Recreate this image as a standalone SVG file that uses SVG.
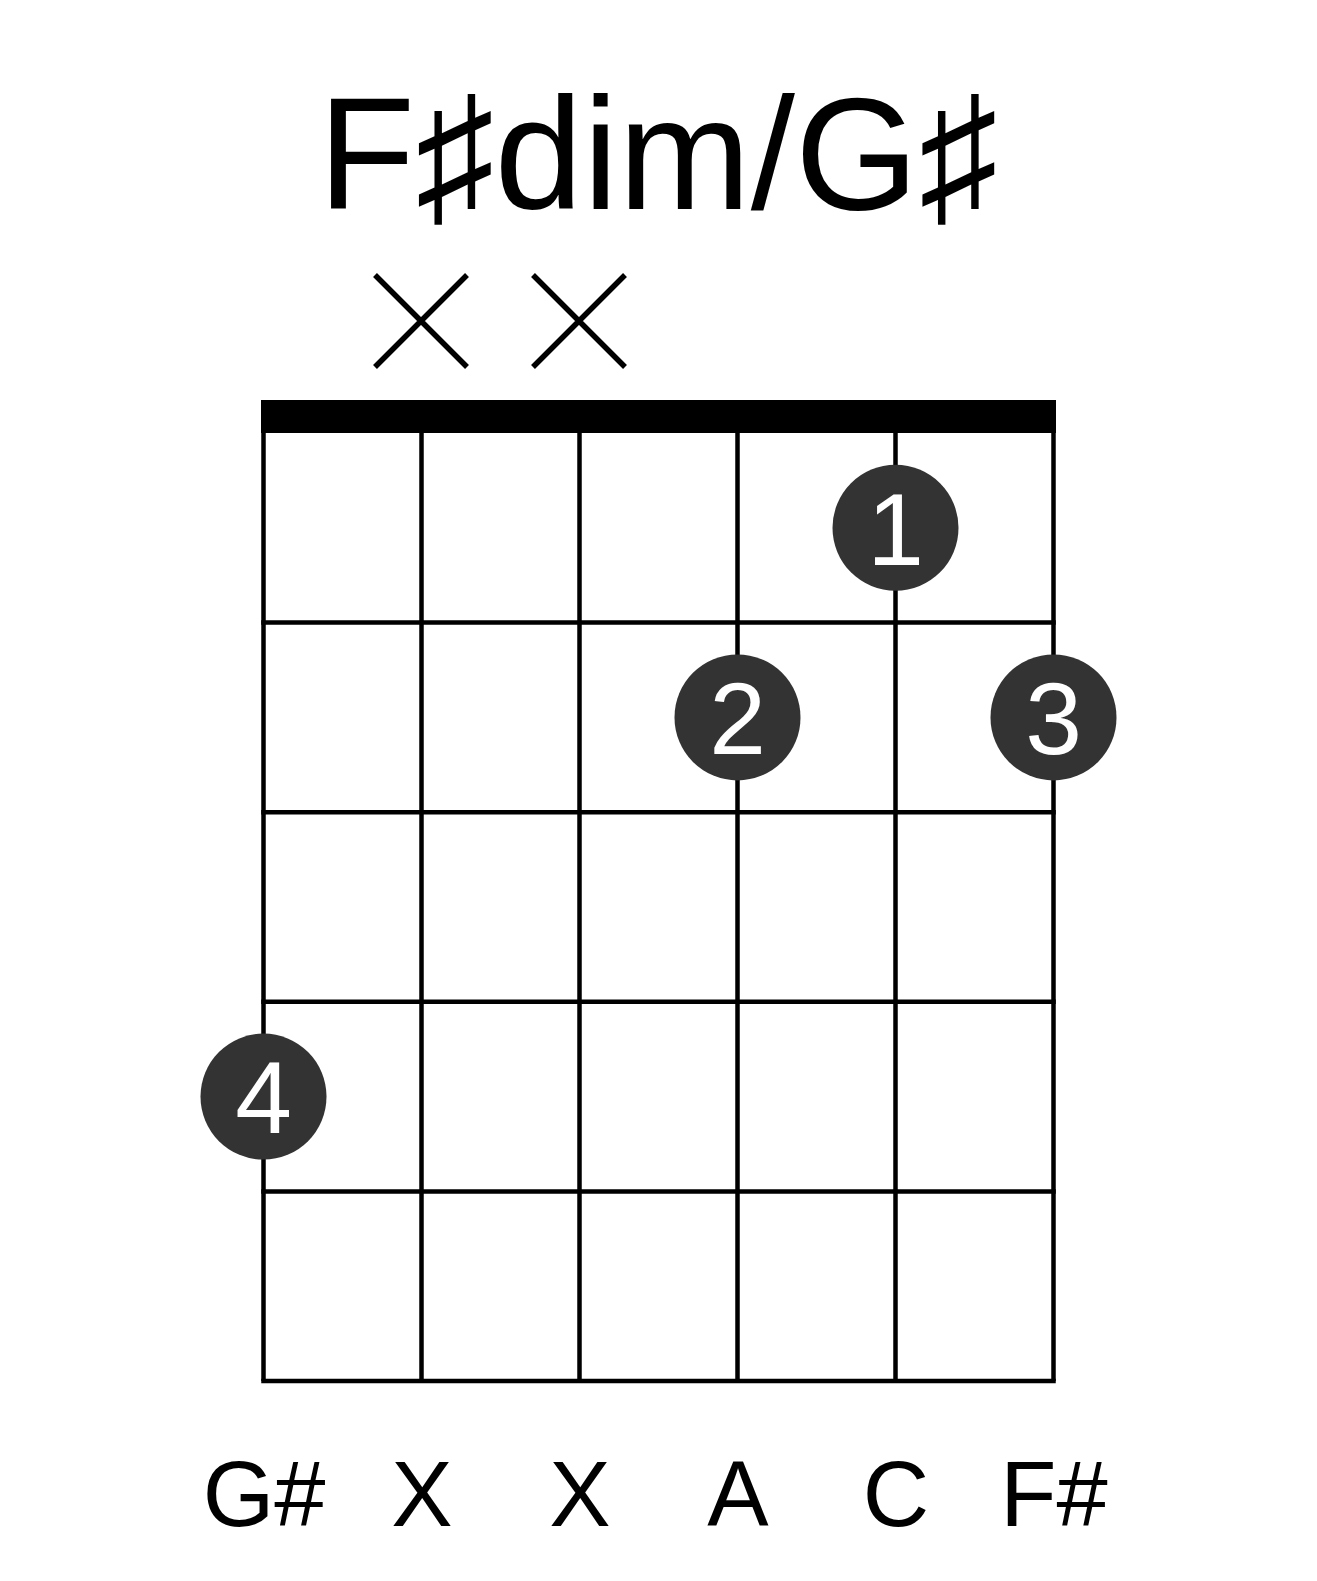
<svg xmlns="http://www.w3.org/2000/svg" width="1317" height="1581" viewBox="0 0 1317 1581">
<style>
.g{stroke:#000;stroke-width:4.5;fill:none}
.x{stroke:#000;stroke-width:5.5;fill:none}
.dot{fill:#333}
.fn{font-family:"Liberation Sans",Arial,sans-serif;fill:#fff;font-size:102px;text-anchor:middle}
.lb{font-family:"Liberation Sans",Arial,sans-serif;fill:#000;font-size:92px;text-anchor:middle}
.tt{font-family:"Liberation Sans","DejaVu Sans",Arial,sans-serif;fill:#000;font-size:159px;text-anchor:middle}
</style>
<rect width="1317" height="1581" fill="#fff"/>
<text class="tt" x="658" y="209">F♯dim/G♯</text>
<g id="mutes">
<path class="x" d="M375,275 L467,367 M467,275 L375,367"/>
<path class="x" d="M533,275 L625,367 M625,275 L533,367"/>
</g>
<g id="grid">
<rect x="261" y="400" width="795" height="33" fill="#000"/>
<path class="g" d="M263.5,433 V1381 M421.5,433 V1381 M579.5,433 V1381 M737.5,433 V1381 M895.5,433 V1381 M1053.5,433 V1381"/>
<path class="g" d="M261.25,622.6 H1055.75 M261.25,812.2 H1055.75 M261.25,1001.8 H1055.75 M261.25,1191.4 H1055.75 M261.25,1381 H1055.75"/>
</g>
<g id="f1"><circle class="dot" cx="895.5" cy="527.8" r="63"/><text class="fn" x="895.5" y="564.5">1</text></g>
<g id="f2"><circle class="dot" cx="737.5" cy="717.4" r="63"/><text class="fn" x="737.5" y="754.1">2</text></g>
<g id="f3"><circle class="dot" cx="1053.5" cy="717.4" r="63"/><text class="fn" x="1053.5" y="754.1">3</text></g>
<g id="f4"><circle class="dot" cx="263.5" cy="1096.6" r="63"/><text class="fn" x="263.5" y="1133.3">4</text></g>
<g id="labels">
<text class="lb" x="264" y="1526">G#</text>
<text class="lb" x="422" y="1526">X</text>
<text class="lb" x="580" y="1526">X</text>
<text class="lb" x="738" y="1526">A</text>
<text class="lb" x="896" y="1526">C</text>
<text class="lb" x="1054" y="1526">F#</text>
</g>
</svg>
